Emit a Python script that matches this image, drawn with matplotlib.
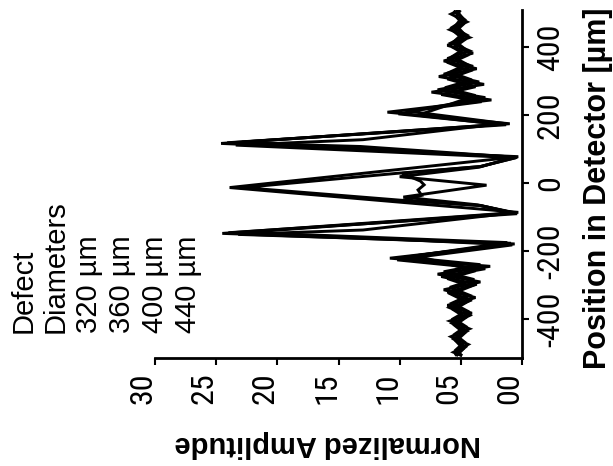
import matplotlib
matplotlib.use("Agg")
import matplotlib.pyplot as plt
from matplotlib import font_manager as fm
from matplotlib.transforms import ScaledTranslation

# ---- data (position in detector [um], normalized amplitude) ----
pos_440 = [-507,-498,-475,-452,-429,-406,-383,-360,-337,-314,-291,-268,-245,-221,-179,-148,-86,-13,78,117,
           175,209,245,268,291,314,337,360,383,406,429,452,475,498,508]
amp_440 = [5.0,5.6,4.4,5.8,4.3,5.9,4.1,6.1,3.8,6.4,3.4,6.9,2.6,10.8,0.6,24.5,0.3,23.9,0.3,24.6,
           1.0,11.0,2.5,7.4,3.1,6.8,3.7,6.4,4.0,6.1,4.3,5.9,4.5,5.8,5.2]

pos_400 = [-505,-482,-459,-436,-413,-390,-367,-344,-321,-298,-275,-252,-226,-182,-160,-146,-90,-66,-50,-13,
           29,49,76,108,119,172,204,252,275,298,321,344,367,390,413,436,459,482,505]
amp_400 = [5.4,4.6,5.6,4.5,5.7,4.3,5.9,4.1,6.1,3.7,6.6,3.0,10.2,0.8,13.2,24.0,0.4,3.4,10.0,22.8,
           10.2,3.4,0.4,13.2,24.1,1.3,10.1,3.0,6.9,3.5,6.4,4.0,6.1,4.3,5.8,4.5,5.7,4.7,5.5]

pos_360 = [-505,-491,-468,-445,-422,-399,-376,-353,-330,-307,-284,-261,-240,-218,-177,-151,-138,-87,-66,-50,
           -36,-20,-5,6,29,49,75,112,128,176,212,240,261,284,307,330,353,376,399,422,445,468,491,506]
amp_360 = [5.0,5.4,4.7,5.5,4.6,5.6,4.5,5.7,4.3,5.9,3.9,6.4,3.4,9.6,0.9,23.2,13.0,0.6,3.4,9.7,
           8.2,8.5,8.0,8.3,9.8,3.4,0.5,23.4,13.0,1.5,9.3,3.3,6.6,3.8,6.1,4.3,5.9,4.5,5.6,4.7,5.5,4.8,5.4,5.1]

pos_320 = [-506,-488,-465,-442,-419,-396,-373,-350,-327,-304,-281,-258,-214,-175,-145,-88,-64,-41,-6,19,
           47,77,121,173,200,258,281,304,327,350,373,396,419,442,465,488,506]
amp_320 = [5.3,4.8,5.4,4.7,5.5,4.6,5.6,4.5,5.8,4.2,6.1,3.8,8.7,1.2,22.6,0.7,3.6,9.7,2.9,10.0,
           3.5,0.6,22.9,1.8,8.5,3.8,6.3,4.1,5.9,4.5,5.7,4.7,5.5,4.8,5.4,4.9,5.3]

amp_ticks = [30, 25, 20, 15, 10, 5, 0]
amp_tick_labels = ["30", "25", "20", "15", "10", "05", "00"]
pos_ticks = [-400, -200, 0, 200, 400]
pos_tick_labels = ["-400", "-200", "0", "200", "400"]
legend_lines = ["Defect", "Diameters", "320 \u00b5m", "360 \u00b5m", "400 \u00b5m", "440 \u00b5m"]
xlabel = "Position in Detector [\u00b5m]"
ylabel = "Normalized Amplitude"

names = {f.name for f in fm.fontManager.ttflist}
regular = "Liberation Sans" if "Liberation Sans" in names else "DejaVu Sans"
narrow = regular
for cand in ["Liberation Sans Narrow", "Arial Narrow", "Roboto Condensed", "Archivo Narrow",
             "PT Sans Narrow", "Asap Condensed"]:
    if cand in names:
        narrow = cand
        break
tick_size = 23 if narrow != regular else 19

W, H = 613, 466
fig = plt.figure(figsize=(W / 100, H / 100), dpi=100)
ax = fig.add_axes([155 / W, 1 - 358 / H, (522 - 155) / W, (358 - 10) / H])

for a, p in [(amp_320, pos_320), (amp_360, pos_360), (amp_400, pos_400), (amp_440, pos_440)]:
    ax.plot(a, p, color="black", lw=2.1, solid_joinstyle="miter")

ax.set_xlim(30, 0)
ax.set_ylim(-515, 510)
for s in ["top", "left"]:
    ax.spines[s].set_visible(False)
for s in ["bottom", "right"]:
    ax.spines[s].set_linewidth(2.0)
ax.yaxis.tick_right()
ax.set_xticks(amp_ticks)
ax.set_xticklabels(amp_tick_labels, rotation=90, family=narrow, fontsize=tick_size, va="top", ha="center")
ax.set_yticks(pos_ticks)
ax.set_yticklabels(pos_tick_labels, rotation=90, family=narrow, fontsize=tick_size, va="center", ha="left")
ax.tick_params(axis="x", direction="out", length=5, width=1.5, pad=5)
ax.tick_params(axis="y", direction="out", length=5, width=1.5, pad=5)
off = ScaledTranslation(-12 / 100, 0, fig.dpi_scale_trans)
for lab in ax.get_xticklabels():
    lab.set_transform(lab.get_transform() + off)

fig.text(328 / W, 1 - 444 / H, ylabel, rotation=180, ha="center", va="center",
         family=regular, fontweight="bold", fontsize=21)
fig.text(598 / W, 1 - 188 / H, xlabel, rotation=90, ha="center", va="center",
         family=regular, fontweight="bold", fontsize=22)

xs = [24, 56, 89, 122, 155, 188]
for x, t in zip(xs, legend_lines):
    fig.text(x / W, 1 - 333 / H, t, rotation=90, ha="center", va="bottom",
             family=regular, fontsize=21)

fig.savefig("out.png", dpi=100)
